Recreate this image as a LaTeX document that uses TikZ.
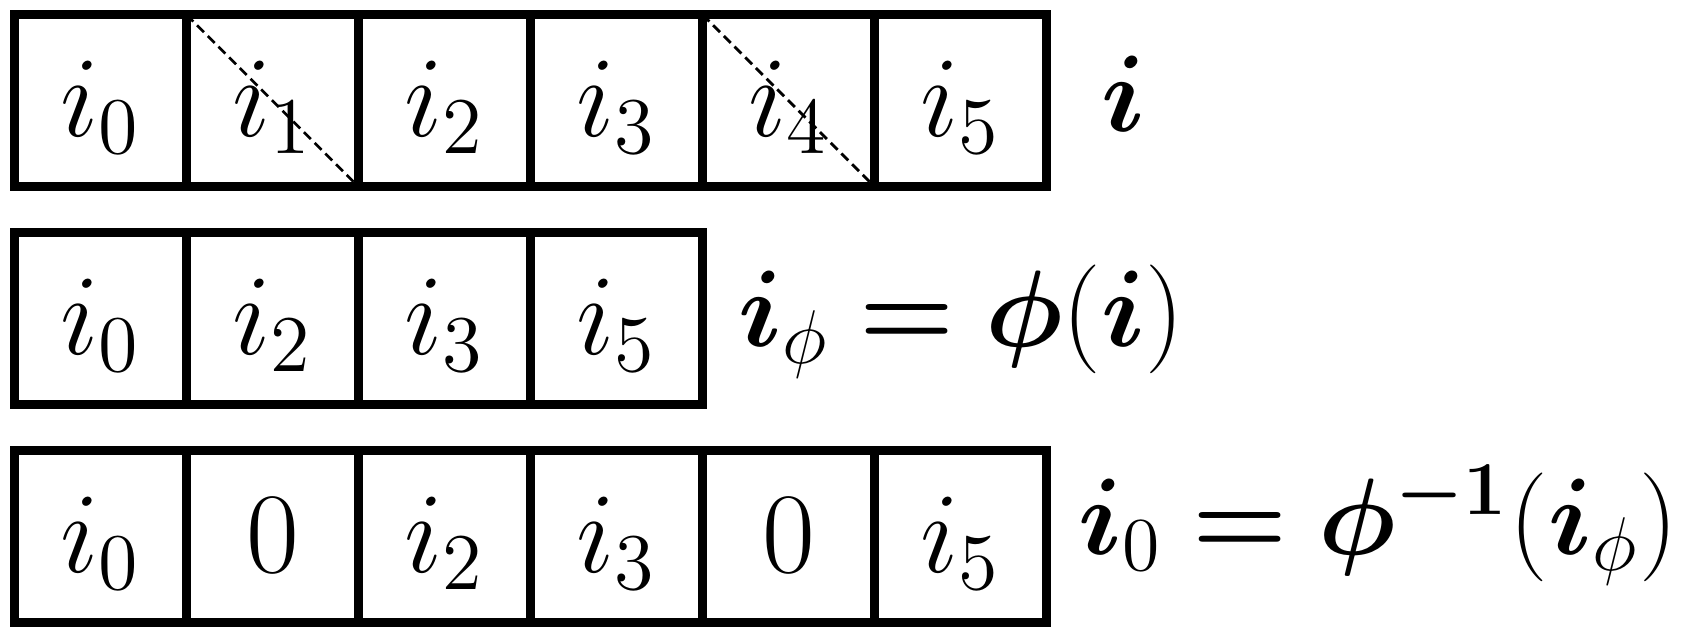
\documentclass[tikz,border=0pt]{standalone}
\usepackage{fix-cm}
\usepackage{amsmath,bm}
\usepackage{tikz}
\newcommand{\lblfont}{\fontsize{18}{22}\selectfont}
\tikzset{
  cell/.style={draw, line width=1.4pt, minimum size=1cm, inner sep=0pt, outer sep=0pt,
    text height=0.5cm, text depth=0.08cm, font=\fontsize{19}{23}\selectfont},
  strike/.style={line width=0.45pt, dash pattern=on 1.6pt off 0.9pt},
  lbl/.style={anchor=base west, inner sep=0pt, font=\lblfont}
}

\begin{document}
\begin{tikzpicture}
  \useasboundingbox (0, 0) rectangle (9.773, -3.703);
  % input i
  \node [cell] (A0) at (0.584, -0.585) {$i_0$};
  \node [cell] (A1) at (1.584, -0.585) {$i_1$};
  \node [cell] (A2) at (2.584, -0.585) {$i_2$};
  \node [cell] (A3) at (3.584, -0.585) {$i_3$};
  \node [cell] (A4) at (4.584, -0.585) {$i_4$};
  \node [cell] (A5) at (5.584, -0.585) {$i_5$};
  \node [lbl] (LA) at (6.395, -0.767) {$\bm{i}$};
  \draw [strike] (A1.north west) -- (A1.south east);
  \draw [strike] (A4.north west) -- (A4.south east);
  % compressed
  \node [cell] (B0) at (0.584, -1.852) {$i_0$};
  \node [cell] (B1) at (1.584, -1.852) {$i_2$};
  \node [cell] (B2) at (2.584, -1.852) {$i_3$};
  \node [cell] (B3) at (3.584, -1.852) {$i_5$};
  \node [lbl] (LB) at (4.285, -2.017) {$\bm{i}_{\phi} \bm{=} \bm{\phi}(\bm{i})$};
  % restored
  \node [cell] (C0) at (0.584, -3.119) {$i_0$};
  \node [cell] (C1) at (1.584, -3.119) {$0$};
  \node [cell] (C2) at (2.584, -3.119) {$i_2$};
  \node [cell] (C3) at (3.584, -3.119) {$i_3$};
  \node [cell] (C4) at (4.584, -3.119) {$0$};
  \node [cell] (C5) at (5.584, -3.119) {$i_5$};
  \node [lbl] (LC) at (6.262, -3.221) {$\bm{i}_0 \bm{=} \bm{\phi}^{\bm{-1}}(\bm{i}_{\phi})$};
\end{tikzpicture}
\end{document}
